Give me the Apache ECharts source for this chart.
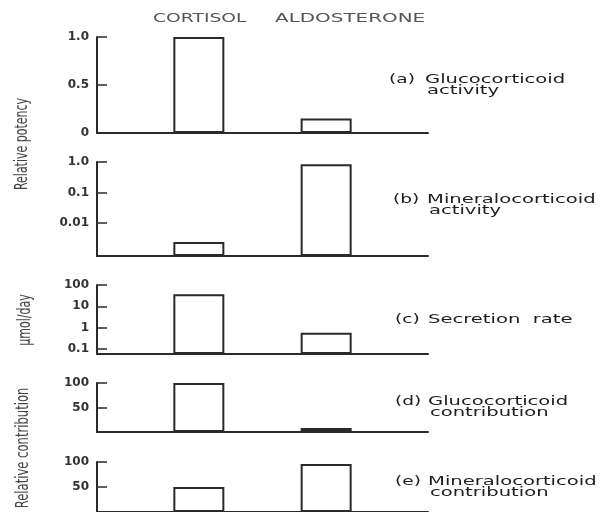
<!DOCTYPE html>
<html>
<head>
<meta charset="utf-8">
<script src="https://cdn.jsdelivr.net/npm/echarts@6/dist/echarts.min.js"></script>
<style>
  html, body { margin: 0; padding: 0; background: #fff; }
  #chart { width: 612px; height: 512px; }
</style>
</head>
<body>
<div id="chart"></div>
<script>
// ---- data ----
const compounds = ['CORTISOL', 'ALDOSTERONE'];
const glucocorticoidActivity = [1.0, 0.15];
const mineralocorticoidActivity = [0.0024, 0.85];
const secretionRate = [37, 0.58];            // µmol/day
const glucocorticoidContribution = [100, 8];
const mineralocorticoidContribution = [50, 96];

const ticksA = [0, 0.5, 1.0];
const ticksB = [0.01, 0.1, 1];
const ticksC = [0.1, 1, 10, 100];
const ticksD = [50, 100];
const ticksE = [50, 100];

const panelTitles = [
  ['(a)', 'Glucocorticoid', 'activity'],
  ['(b)', 'Mineralocorticoid', 'activity'],
  ['(c)', 'Secretion  rate', ''],
  ['(d)', 'Glucocorticoid', 'contribution'],
  ['(e)', 'Mineralocorticoid', 'contribution']
];
const sideTitles = ['Relative potency', 'µmol/day', 'Relative contribution'];

// ---- layout / styles ----
const INK = '#2a2a2a';
const FONT = 'DejaVu Sans';

function fmtLog(v) {
  const e = Math.round(Math.log10(v));
  if (e === 0) return '1';
  const p = Math.pow(10, e);
  return e < 0 ? p.toFixed(-e) : String(p);
}

const panels = [
  { top: 37, height: 96, type: 'value', min: 0, max: 1, interval: 0.5, ticks: ticksA,
    values: glucocorticoidActivity, fmt: v => (v === 1 ? '1.0' : String(v)) },
  { top: 162, height: 94, type: 'log', min: 0.00083, max: 1, ticks: ticksB,
    values: mineralocorticoidActivity, fmt: v => { const s = fmtLog(v); return s === '1' ? '1.0' : s; } },
  { top: 285, height: 69, type: 'log', min: 0.058, max: 100, ticks: ticksC,
    values: secretionRate, fmt: v => fmtLog(v) },
  { top: 383, height: 49, type: 'value', min: 0, max: 100, interval: 50, ticks: ticksD,
    values: glucocorticoidContribution, fmt: v => String(v) },
  { top: 462, height: 51, type: 'value', min: 0, max: 100, interval: 50, ticks: ticksE,
    values: mineralocorticoidContribution, fmt: v => String(v) }
];

const GRID_LEFT = 97, GRID_W = 331;

const grid = panels.map(p => ({ left: GRID_LEFT, top: p.top, width: GRID_W, height: p.height }));

const xAxis = panels.map((p, i) => ({
  gridIndex: i, type: 'value', min: -0.8, max: 1.8, position: 'bottom',
  axisLine: { show: true, onZero: false, lineStyle: { color: INK, width: 2 } },
  axisTick: { show: false }, axisLabel: { show: false }, splitLine: { show: false }
}));

const yAxis = panels.map((p, i) => {
  const ax = {
    gridIndex: i, type: p.type, min: p.min, max: p.max,
    axisLine: { show: true, onZero: false, lineStyle: { color: INK, width: 2 } },
    axisTick: { show: true, inside: true, length: 10, customValues: p.ticks,
      lineStyle: { color: INK, width: 1.5 } },
    axisLabel: { show: true, margin: 8, customValues: p.ticks,
      formatter: p.fmt, color: '#333', fontFamily: FONT, fontSize: 12, fontWeight: 'bold' },
    splitLine: { show: false }
  };
  if (p.type === 'log') { ax.logBase = 10; ax.startValue = p.min; }
  else { ax.interval = p.interval; }
  return ax;
});

const series = panels.map((p, i) => ({
  type: 'bar', xAxisIndex: i, yAxisIndex: i, silent: true,
  barWidth: 51,
  data: p.values.map((v, j) => [j, v]),
  itemStyle: { color: '#ffffff', borderColor: INK, borderWidth: 2 }
}));

// ---- texts ----
const graphic = [];
function txt(text, x, y, opts) {
  opts = opts || {};
  graphic.push({
    type: 'text', x: x, y: y, rotation: opts.rotation || 0,
    scaleX: opts.scaleX || 1, scaleY: opts.scaleY || 1, silent: true,
    style: {
      text: text, fill: opts.fill || '#1e1e1e',
      font: (opts.weight || 'normal') + ' ' + (opts.size || 12) + 'px "' + FONT + '"',
      align: opts.align || 'left', textAlign: opts.align || 'left',
      verticalAlign: 'middle', textVerticalAlign: 'middle'
    }
  });
}
// column headers
txt(compounds[0], 153, 19, { scaleX: 1.56, fill: '#555' });
txt(compounds[1], 275, 19, { scaleX: 1.66, fill: '#555' });

// panel annotations
const annPos = [
  { x: 389, bx: 425, y: 80 },
  { x: 393, bx: 427, y: 200 },
  { x: 395, bx: 428, y: 320 },
  { x: 395, bx: 428, y: 402 },
  { x: 395, bx: 428, y: 482 }
];
panelTitles.forEach((t, i) => {
  const p = annPos[i];
  txt(t[0], p.x, p.y, { scaleX: 1.55 });
  txt(t[1], p.bx, p.y, { scaleX: 1.63 });
  if (t[2]) txt(t[2], p.bx + 2, p.y + 11, { scaleX: 1.63 });
});

// rotated axis titles
txt(sideTitles[0], 23, 144, { rotation: Math.PI / 2, align: 'center', size: 11, scaleY: 1.55, fill: '#444' });
txt(sideTitles[1], 26, 320, { rotation: Math.PI / 2, align: 'center', size: 11, scaleY: 1.55, fill: '#444' });
txt(sideTitles[2], 23, 448, { rotation: Math.PI / 2, align: 'center', size: 11.6, scaleY: 1.55, fill: '#444' });

const chart = echarts.init(document.getElementById('chart'), null, { renderer: 'canvas' });
chart.setOption({
  animation: false,
  backgroundColor: '#ffffff',
  grid: grid, xAxis: xAxis, yAxis: yAxis, series: series, graphic: graphic
});
</script>
</body>
</html>
